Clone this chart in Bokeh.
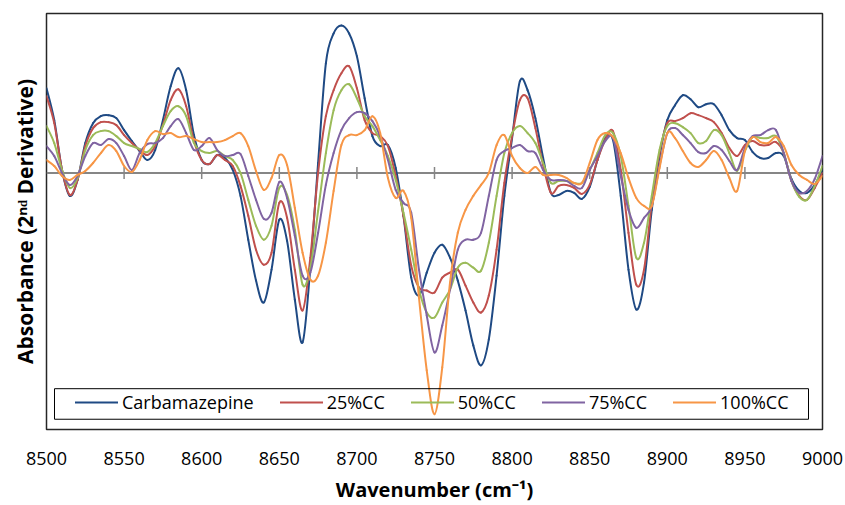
from bokeh.plotting import figure
from bokeh.models import (Range1d, FixedTicker, Span, Legend, LegendItem,
                          BoxAnnotation)
from bokeh.embed import file_html
from bokeh.resources import INLINE

# ---------------- data ----------------
wavenumber = list(range(8500, 9001, 5))

carbamazepine = [
    85, 53, 3, -23, -7, 30, 50, 57, 58, 55,
    43, 32, 22, 13, 23, 53, 87, 105, 83, 38,
    13, 9, 18, 15, 3, -23, -67, -108, -130, -97,
    -47, -68, -127, -170, -95, 10, 110, 140, 148, 140,
    117, 75, 37, 27, 28, 5, -43, -105, -123, -100,
    -80, -72, -85, -108, -138, -173, -193, -167, -103, -23,
    35, 92, 83, 55, 15, -20, -22, -18, -20, -26,
    -14, 13, 35, 33, -23, -97, -137, -110, -37, 17,
    53, 68, 78, 74, 66, 69, 69, 58, 43, 35,
    33, 21, 15, 15, 20, 17, -6, -18, -20, -12,
    3]

cc25 = [
    77, 50, 3, -22, -7, 27, 45, 51, 51, 48,
    38, 30, 23, 18, 27, 48, 73, 84, 67, 32,
    13, 9, 18, 13, 7, -13, -43, -77, -92, -80,
    -30, -45, -97, -138, -85, 0, 57, 83, 100, 107,
    85, 53, 40, 37, 27, -3, -43, -93, -115, -118,
    -120, -105, -100, -97, -113, -130, -140, -123, -77, -10,
    37, 73, 75, 45, 8, -20, -13, -12, -15, -21,
    -12, 13, 33, 42, 3, -60, -112, -97, -30, 20,
    50, 52, 55, 60, 58, 55, 51, 40, 25, 17,
    28, 32, 28, 28, 31, 20, -8, -23, -27, -15,
    0]

cc50 = [
    47, 30, 3, -15, -5, 23, 38, 42, 42, 37,
    30, 27, 24, 21, 30, 47, 62, 67, 57, 30,
    22, 20, 22, 17, 13, 0, -27, -53, -67, -53,
    -15, -22, -57, -112, -95, -38, 20, 63, 83, 89,
    75, 57, 47, 33, 17, -7, -40, -77, -117, -140,
    -145, -130, -117, -95, -90, -95, -98, -70, -23, 20,
    40, 47, 40, 30, 10, -10, -8, -8, -10, -10,
    3, 20, 38, 40, 17, -33, -85, -70, -23, 23,
    47, 50, 46, 40, 30, 32, 43, 38, 20, 2,
    22, 36, 35, 35, 37, 20, -8, -24, -27, -13,
    7]

cc75 = [
    27, 17, 0, -12, -3, 17, 30, 28, 34, 30,
    17, 3, 20, 29, 30, 35, 47, 54, 40, 23,
    27, 35, 23, 17, 18, 19, -3, -27, -46, -40,
    -9, -25, -63, -103, -100, -60, -12, 20, 43, 55,
    61, 60, 52, 37, 13, -17, -30, -40, -97, -143,
    -180, -153, -117, -77, -67, -67, -60, -23, 13, 22,
    25, 28, 22, 20, 3, -7, -7, -8, -13, -15,
    3, 17, 32, 35, -3, -37, -55, -45, -33, 7,
    40, 45, 38, 30, 21, 20, 27, 23, 12, 3,
    25, 37, 38, 43, 43, 20, -8, -20, -18, -6,
    17]

cc100 = [
    13, 7, -3, -7, -2, 2, 10, 20, 28, 22,
    7, 1, 13, 33, 42, 39, 40, 36, 37, 34,
    31, 31, 31, 33, 37, 40, 27, 2, -17, -5,
    18, 8, -35, -80, -107, -103, -70, -18, 28, 38,
    38, 43, 57, 40, -5, -25, -18, -45, -125, -198,
    -242, -195, -110, -60, -37, -23, -12, 0, 28, 38,
    17, 5, 0, 6, -2, -2, -2, -5, -10, -10,
    10, 33, 40, 36, 20, -5, -25, -33, -33, 5,
    40, 35, 22, 10, 6, 13, 22, 13, -5, -18,
    22, 36, 31, 30, 36, 27, 8, -2, -7, -11,
    -3]

series_names = ["Carbamazepine", "25%CC", "50%CC", "75%CC", "100%CC"]
x_ticks = [8500, 8550, 8600, 8650, 8700, 8750, 8800, 8850, 8900, 8950, 9000]
zero_line_ticks = [8550, 8600, 8650, 8700, 8750, 8800, 8850, 8900, 8950]
x_title = "Wavenumber (cm\u207b\u00b9)"
y_title = "Absorbance (2\u207f\u1d48 Derivative)"

# ---------------- styles / layout ----------------
colors = ["#1F4A84", "#C0504D", "#9BBB59", "#8064A2", "#F79646"]
FONT = "Open Sans"
W, H = 845, 505
FRAME_L, FRAME_T, FRAME_R, FRAME_B = 46, 13, 822, 431
X0, X1 = 8500, 9000
Y0, Y1 = -257.4, 160

p = figure(width=W, height=H, output_backend="svg", toolbar_location=None,
           x_range=Range1d(X0, X1), y_range=Range1d(Y0, Y1),
           min_border_left=FRAME_L, min_border_right=W - FRAME_R,
           min_border_top=FRAME_T, min_border_bottom=H - FRAME_B)
p.background_fill_color = "white"
p.border_fill_color = "white"
p.outline_line_color = "#262626"
p.outline_line_width = 1.5
p.xgrid.visible = False
p.ygrid.visible = False

# pixel -> data helpers (legend frame)
px_x = (X1 - X0) / (FRAME_R - FRAME_L)
px_y = (Y1 - Y0) / (FRAME_B - FRAME_T)
def dx(page_x):
    return X0 + (page_x - FRAME_L) * px_x
def dy(page_y):
    return Y1 - (page_y - FRAME_T) * px_y

# zero line with its tick marks
p.add_layout(Span(location=0, dimension="width", line_color="#868686",
                  line_width=2, level="underlay"))
tick_half = 6 * px_y
p.segment(x0=zero_line_ticks, y0=[-tick_half] * len(zero_line_ticks),
          x1=zero_line_ticks, y1=[tick_half] * len(zero_line_ticks),
          line_color="#868686", line_width=1.5)

# smooth curves through the read points (cubic Bezier, Catmull-Rom tangents)
def smooth(xs, ys):
    n = len(xs)
    out = dict(x0=[], y0=[], x1=[], y1=[], cx0=[], cy0=[], cx1=[], cy1=[])
    for i in range(n - 1):
        im, ip2 = max(i - 1, 0), min(i + 2, n - 1)
        out["x0"].append(xs[i]); out["y0"].append(ys[i])
        out["x1"].append(xs[i + 1]); out["y1"].append(ys[i + 1])
        out["cx0"].append(xs[i] + (xs[i + 1] - xs[im]) / 6)
        out["cy0"].append(ys[i] + (ys[i + 1] - ys[im]) / 6)
        out["cx1"].append(xs[i + 1] - (xs[ip2] - xs[i]) / 6)
        out["cy1"].append(ys[i + 1] - (ys[ip2] - ys[i]) / 6)
    return out

curve_renderers = []
for ys, c in zip([carbamazepine, cc25, cc50, cc75, cc100], colors):
    r = p.bezier(**smooth(wavenumber, ys), line_color=c, line_width=2,
                 line_cap="round")
    curve_renderers.append(r)

# axes
xa = p.xaxis[0]
xa.ticker = FixedTicker(ticks=x_ticks)
xa.axis_line_color = None
xa.major_tick_line_color = None
xa.minor_tick_line_color = None
xa.major_tick_out = 0
xa.major_label_standoff = 22
xa.major_label_text_font = FONT
xa.major_label_text_font_size = "18px"
xa.major_label_text_color = "black"
xa.axis_label = x_title
xa.axis_label_text_font = FONT
xa.axis_label_text_font_style = "bold"
xa.axis_label_text_font_size = "20px"
xa.axis_label_text_color = "black"
xa.axis_label_standoff = 8

ya = p.yaxis[0]
ya.ticker = FixedTicker(ticks=[])
ya.axis_line_color = None
ya.major_tick_line_color = None
ya.minor_tick_line_color = None
ya.major_label_text_font_size = "0px"
ya.axis_label = y_title
ya.axis_label_text_font = FONT
ya.axis_label_text_font_style = "bold"
ya.axis_label_text_font_size = "21px"
ya.axis_label_text_color = "black"
ya.axis_label_standoff = 8

# legend (items laid out by Bokeh, frame drawn as a box)
legend = Legend(items=[LegendItem(label=n, renderers=[r])
                       for n, r in zip(series_names, curve_renderers)],
                orientation="horizontal", location=(24, 10.5),
                padding=5, spacing=26, label_standoff=4, glyph_width=43,
                margin=0, border_line_alpha=0, background_fill_alpha=0,
                label_text_font=FONT, label_text_font_size="18px",
                label_text_color="black")
p.add_layout(legend)
p.add_layout(BoxAnnotation(left=dx(54), right=dx(808),
                           top=dy(390), bottom=dy(420.7),
                           fill_alpha=0, line_color="black", line_width=1,
                           line_alpha=1))

open("out.html", "w").write(file_html(p, INLINE))
